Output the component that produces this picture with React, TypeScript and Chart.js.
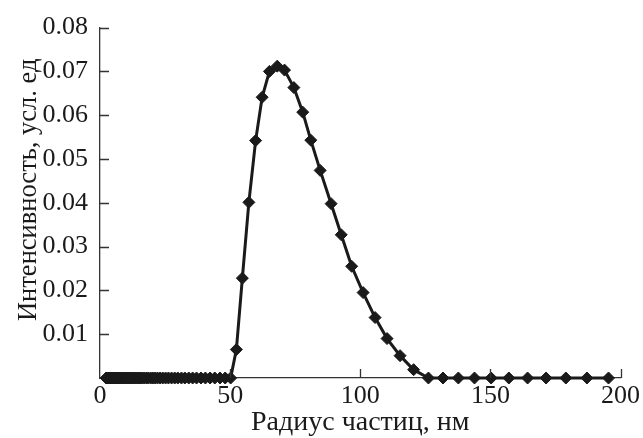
import React, { useEffect, useRef } from "react";
import { Chart, registerables } from "chart.js";

Chart.register(...registerables);

// Particle radius, nm
const radius: number[] = [
  2.4, 2.5, 2.6, 2.7, 2.8, 2.9, 3.1, 3.2, 3.3, 3.5, 3.6, 3.8, 4.0, 4.1, 4.3, 4.5,
  4.7, 4.9, 5.1, 5.4, 5.6, 5.8, 6.1, 6.4, 6.6, 6.9, 7.2, 7.5, 7.9, 8.2, 8.6, 9.0,
  9.4, 9.8, 10.2, 10.7, 11.1, 11.6, 12.1, 12.7, 13.2, 13.8, 14.4, 15.0, 15.7, 16.4,
  17.1, 17.9, 18.6, 19.5, 20.3, 21.2, 22.1, 23.1, 24.1, 25.2, 26.3, 27.5, 28.7,
  29.9, 31.3, 32.6, 34.1, 35.6, 37.1, 38.8, 40.5, 42.3, 44.1, 46.1, 48.1, 50.2,
  52.4, 54.7, 57.2, 59.8, 62.3, 65.1, 68.1, 70.9, 74.5, 77.9, 81.0, 84.6, 88.8,
  92.7, 96.7, 101.1, 105.7, 110.3, 115.3, 120.5, 126.2, 131.8, 137.7, 143.9,
  150.3, 157.1, 164.3, 171.4, 179.0, 187.1, 195.4,
];

// Intensity, arb. units
const intensity: number[] = [
  0, 0, 0, 0, 0, 0, 0, 0, 0, 0, 0, 0, 0, 0, 0, 0,
  0, 0, 0, 0, 0, 0, 0, 0, 0, 0, 0, 0, 0, 0, 0, 0,
  0, 0, 0, 0, 0, 0, 0, 0, 0, 0, 0, 0, 0, 0,
  0, 0, 0, 0, 0, 0, 0, 0, 0, 0, 0, 0, 0,
  0, 0, 0, 0, 0, 0, 0, 0, 0, 0, 0, 0, 0,
  0.0065, 0.0228, 0.0401, 0.0542, 0.0641, 0.07, 0.0712, 0.0703, 0.0663, 0.0607, 0.0543, 0.0474, 0.0398,
  0.0327, 0.0255, 0.0195, 0.0138, 0.009, 0.0051, 0.0019, 0, 0, 0, 0,
  0, 0, 0, 0, 0, 0, 0,
];

const xTicks: number[] = [0, 50, 100, 150, 200];
const yTicks: number[] = [0.01, 0.02, 0.03, 0.04, 0.05, 0.06, 0.07, 0.08];

const xTitle = "Радиус частиц, нм";
const yTitle = "Интенсивность, усл. ед";

const FONT = "'Liberation Serif', serif";
const INK = "#1a1a1a";
const TICK_SIZE = 26;
const X_TITLE_SIZE = 28;
const Y_TITLE_SIZE = 26.5;

const axisDecor = {
  id: "axisDecor",
  afterDraw(chart: any) {
    const { ctx, chartArea, scales } = chart;
    const xs = scales.x;
    const ys = scales.y;
    ctx.save();
    ctx.strokeStyle = "#333";
    ctx.lineWidth = 1.3;
    ctx.beginPath();
    for (const v of yTicks) {
      const py = Math.round(ys.getPixelForValue(v)) + 0.5;
      ctx.moveTo(chartArea.left, py);
      ctx.lineTo(chartArea.left + 9, py);
    }
    for (const v of xTicks) {
      if (v === 0) continue;
      const px = Math.round(xs.getPixelForValue(v)) + 0.5;
      ctx.moveTo(px, chartArea.bottom);
      ctx.lineTo(px, chartArea.bottom - 9);
    }
    ctx.stroke();
    // y-axis title
    ctx.fillStyle = INK;
    ctx.font = `${Y_TITLE_SIZE}px ${FONT}`;
    ctx.textAlign = "center";
    ctx.textBaseline = "alphabetic";
    ctx.translate(36, (chartArea.top + chartArea.bottom) / 2 - 13);
    ctx.rotate(-Math.PI / 2);
    ctx.fillText(yTitle, 0, 0);
    ctx.restore();
  },
};

export default function App() {
  const ref = useRef<HTMLCanvasElement | null>(null);

  useEffect(() => {
    let chart: Chart | null = null;
    let cancelled = false;
    const build = () => {
      if (cancelled || !ref.current) return;
      const points = radius.map((r, i) => ({ x: r, y: intensity[i] }));
      chart = new Chart(ref.current, {
        type: "line",
        data: {
          datasets: [
            {
              data: points,
              borderColor: INK,
              backgroundColor: INK,
              borderWidth: 3,
              pointStyle: "rectRot",
              pointRadius: 6,
              pointBorderWidth: 1,
              pointBackgroundColor: INK,
              pointBorderColor: INK,
              tension: 0,
              clip: false,
            } as any,
          ],
        },
        options: {
          responsive: false,
          animation: false,
          events: [],
          layout: { padding: { left: 0, right: 21, top: 24, bottom: 0 } },
          plugins: { legend: { display: false }, tooltip: { enabled: false } },
          scales: {
            x: {
              type: "linear",
              min: 0,
              max: 200,
              afterFit: (s: any) => {
                s.height = 60;
              },
              afterBuildTicks: (s: any) => {
                s.ticks = xTicks.map((v) => ({ value: v }));
              },
              grid: { display: true, drawOnChartArea: false, drawTicks: false },
              border: { display: true, color: "#333", width: 1.3 },
              ticks: {
                color: INK,
                padding: 3,
                maxRotation: 0,
                font: { family: FONT, size: TICK_SIZE },
              },
              title: {
                display: true,
                text: xTitle,
                color: INK,
                padding: { top: 0, bottom: -1 },
                font: { family: FONT, size: X_TITLE_SIZE },
              },
            },
            y: {
              type: "linear",
              min: 0,
              max: 0.08,
              afterFit: (s: any) => {
                s.width = 100;
              },
              afterBuildTicks: (s: any) => {
                s.ticks = yTicks.map((v) => ({ value: v }));
              },
              grid: { display: true, drawOnChartArea: false, drawTicks: false },
              border: { display: true, color: "#333", width: 1.3 },
              ticks: {
                color: INK,
                padding: 12,
                font: { family: FONT, size: TICK_SIZE },
                callback: (v: any) => Number(v).toFixed(2),
              },
              title: { display: false },
            },
          },
        },
        plugins: [axisDecor],
      });
    };
    const fonts: any = (document as any).fonts;
    if (fonts && fonts.load) {
      fonts
        .load(`24px 'Liberation Serif'`, "0.08 Радиус")
        .catch(() => null)
        .then(() => build());
    } else {
      build();
    }
    return () => {
      cancelled = true;
      if (chart) chart.destroy();
    };
  }, []);

  return (
    <div style={{ position: "fixed", left: 0, top: 0, width: 643, height: 438, background: "#fff" }}>
      <canvas ref={ref} width={643} height={438} style={{ display: "block" }} />
    </div>
  );
}
